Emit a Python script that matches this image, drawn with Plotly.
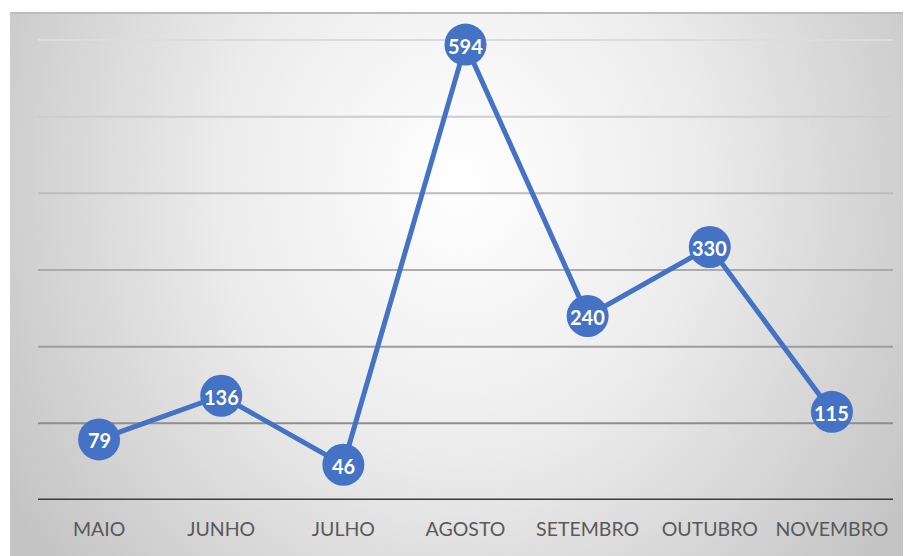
import base64
import plotly.graph_objects as go

months = ["MAIO", "JUNHO", "JULHO", "AGOSTO", "SETEMBRO", "OUTUBRO", "NOVEMBRO"]
values = [79, 136, 46, 594, 240, 330, 115]
grid_levels = [100, 200, 300, 400, 500, 600]
grid_colors = ["#8e8e8e", "#9c9c9c", "#ababab", "#bdbdbd", "#cdcdcd", "#dcdcdc"]

OFF = 8  # page body margin
W, H = 911 - OFF, 556 - OFF
# target window coordinates of plot area
PL, PR, P600, P0 = 38, 893, 40, 500
PT = 25
ML = PL - OFF
MR = (911 - OFF) - (PR - OFF)
MT = PT - OFF
MB = H - (P0 - OFF)
y_top = (P0 - PT) / ((P0 - P600) / 600.0)

pw = W - ML - MR
ph = H - MT - MB

# background gradient (chart area from window x=10, y=12 to the window edge)
bx0, by0 = 10 - OFF, 12 - OFF
bw, bh = W - bx0, H - by0
svg = f'''<svg xmlns="http://www.w3.org/2000/svg" width="{bw}" height="{bh}" viewBox="0 0 {bw} {bh}">
<defs><radialGradient id="g" gradientUnits="userSpaceOnUse" cx="450" cy="170" r="530"
 gradientTransform="translate(450 170) scale(1 1.14) translate(-450 -170)">
<stop offset="0" stop-color="#ffffff"/><stop offset="0.45" stop-color="#ececec"/><stop offset="1" stop-color="#c4c4c4"/>
</radialGradient></defs>
<rect x="0" y="0" width="{bw}" height="{bh}" fill="url(#g)"/>
<rect x="0" y="0" width="{bw}" height="2" fill="#bcbcbc"/>
</svg>'''
src = "data:image/svg+xml;base64," + base64.b64encode(svg.encode()).decode()

img_x = (bx0 - ML) / pw
img_y = (H - MB - by0) / ph
img_sx = bw / pw
img_sy = bh / ph

fig = go.Figure()
fig.add_trace(go.Scatter(
    x=months, y=values,
    mode="lines+markers",
    line=dict(color="#4472C4", width=5),
    marker=dict(size=42, color="#4472C4", line=dict(width=0)),
    cliponaxis=False,
    hoverinfo="skip",
))

annotations = [
    dict(x=m, y=v, xref="x", yref="y", text=f"<b>{v}</b>", showarrow=False,
         yshift=-1, font=dict(color="white", size=20, family="Lato"))
    for m, v in zip(months, values)
]

shapes = []
for lvl, col in zip(grid_levels, grid_colors):
    shapes.append(dict(type="line", xref="paper", yref="y", x0=0, x1=1, y0=lvl, y1=lvl,
                       line=dict(color=col, width=2), layer="below"))
shapes.append(dict(type="line", xref="paper", yref="y", x0=0, x1=1, y0=0, y1=0,
                   line=dict(color="#3c3c3c", width=3), layer="below"))

fig.update_layout(
    width=W, height=H,
    margin=dict(l=ML, r=MR, t=MT, b=MB),
    paper_bgcolor="white",
    plot_bgcolor="rgba(0,0,0,0)",
    showlegend=False,
    shapes=shapes,
    annotations=annotations,
    images=[dict(source=src, xref="paper", yref="paper", x=img_x, y=img_y,
                 sizex=img_sx, sizey=img_sy, xanchor="left", yanchor="top",
                 sizing="stretch", layer="below")],
    xaxis=dict(range=[-0.5, 6.5], showgrid=False, zeroline=False, showline=False,
               ticks="outside", ticklen=12, tickcolor="rgba(0,0,0,0)",
               tickfont=dict(family="Lato", size=19.5, color="#595959")),
    yaxis=dict(range=[0, y_top], showgrid=False, zeroline=False, showticklabels=False,
               showline=False),
)

fig.write_html("out.html")
